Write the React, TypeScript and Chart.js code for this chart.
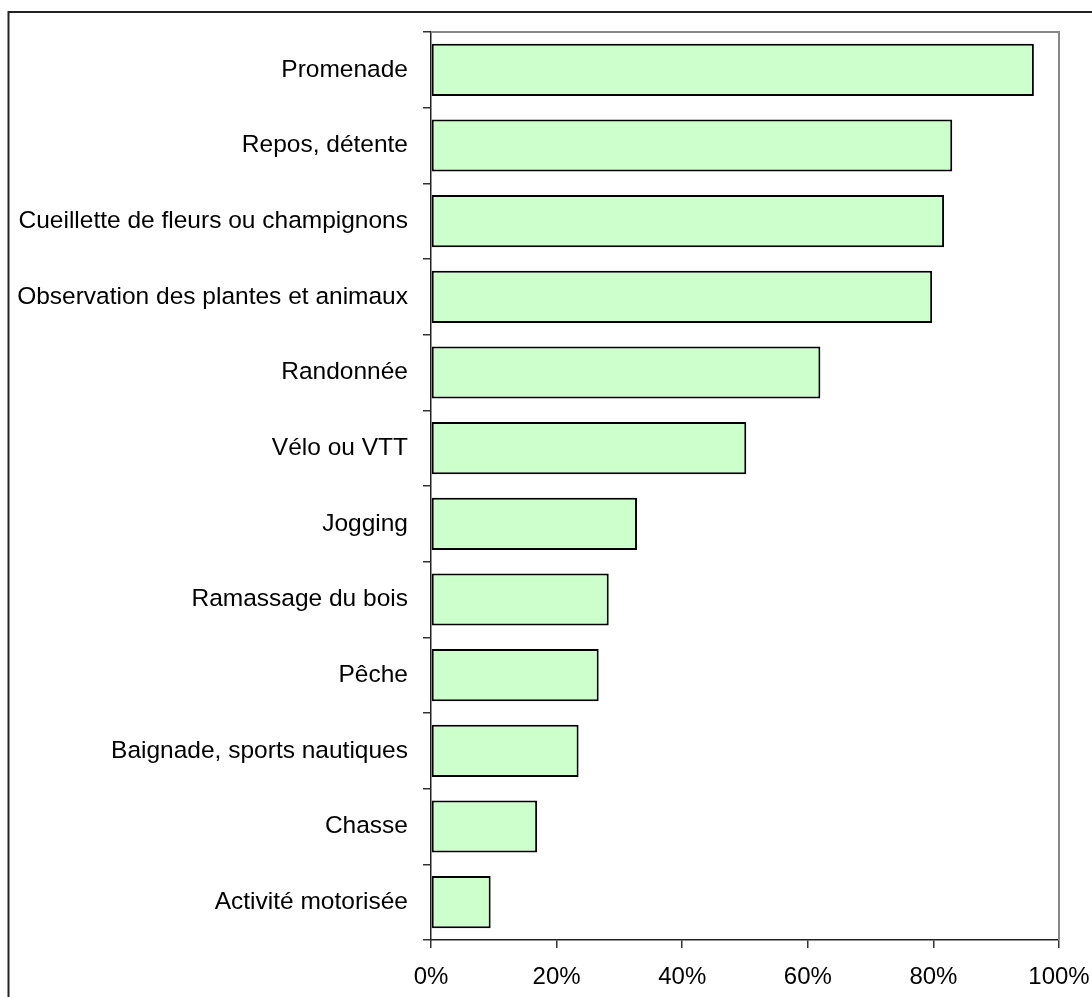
import React, { useEffect, useRef } from "react";
import { Chart, registerables } from "chart.js";

Chart.register(...registerables);

const categories: string[] = [
  "Promenade",
  "Repos, détente",
  "Cueillette de fleurs ou champignons",
  "Observation des plantes et animaux",
  "Randonnée",
  "Vélo ou VTT",
  "Jogging",
  "Ramassage du bois",
  "Pêche",
  "Baignade, sports nautiques",
  "Chasse",
  "Activité motorisée",
];

const values: number[] = [96.0, 83.0, 81.7, 79.8, 62.0, 50.2, 32.8, 28.3, 26.7, 23.5, 16.9, 9.5];

const xMin = 0;
const xMax = 100;
const xStep = 20;

const FONT = '"Liberation Sans", Arial, sans-serif';

const framePlugin = {
  id: "frame",
  afterDraw(chart: any) {
    const { ctx, chartArea } = chart;
    ctx.save();
    ctx.strokeStyle = "#888888";
    ctx.lineWidth = 2;
    ctx.beginPath();
    ctx.moveTo(chartArea.left, chartArea.top);
    ctx.lineTo(chartArea.right, chartArea.top);
    ctx.lineTo(chartArea.right, chartArea.bottom);
    ctx.stroke();
    ctx.strokeStyle = "#222222";
    ctx.lineWidth = 2;
    ctx.beginPath();
    ctx.moveTo(8.5, chart.height);
    ctx.lineTo(8.5, 12);
    ctx.lineTo(chart.width, 12);
    ctx.stroke();
    ctx.restore();
  },
};

export default function App() {
  const ref = useRef<HTMLCanvasElement | null>(null);

  useEffect(() => {
    if (!ref.current) return;
    const chart = new Chart(ref.current, {
      type: "bar",
      data: {
        labels: categories,
        datasets: [
          {
            data: values,
            backgroundColor: "#CCFFCC",
            borderColor: "#000000",
            borderWidth: 2,
            borderSkipped: false,
            barPercentage: 0.69,
            categoryPercentage: 1,
          },
        ],
      },
      options: {
        indexAxis: "y",
        animation: false,
        responsive: true,
        maintainAspectRatio: false,
        layout: { padding: { top: 32, right: 33, left: 0, bottom: 0 } },
        plugins: {
          legend: { display: false },
          tooltip: { enabled: false },
        },
        scales: {
          x: {
            min: xMin,
            max: xMax,
            ticks: {
              stepSize: xStep,
              callback: (v: any) => `${v}%`,
              color: "#000",
              font: { family: FONT, size: 24 },
              padding: 15,
              maxRotation: 0,
              autoSkip: false,
            },
            grid: {
              drawOnChartArea: false,
              drawTicks: true,
              tickLength: 8,
              color: "#333",
              lineWidth: 1.5,
            },
            border: { color: "#222", width: 1.5 },
            afterFit: (s: any) => {
              s.height = 57;
              s.paddingLeft = 0;
              s.paddingRight = 0;
            },
          },
          y: {
            ticks: {
              color: "#000",
              font: { family: FONT, size: 24.5 },
              padding: 15,
              autoSkip: false,
            },
            grid: {
              offset: true,
              drawOnChartArea: false,
              drawTicks: true,
              tickLength: 8,
              color: "#333",
              lineWidth: 1.5,
            },
            border: { color: "#222", width: 1.5 },
            afterFit: (s: any) => {
              s.width = 431;
              s.paddingTop = 0;
              s.paddingBottom = 0;
            },
          },
        },
      },
      plugins: [framePlugin],
    });
    return () => chart.destroy();
  }, []);

  return (
    <div
      style={{
        position: "fixed",
        left: 0,
        top: 0,
        width: 1092,
        height: 997,
        background: "#fff",
      }}
    >
      <canvas ref={ref} />
    </div>
  );
}
